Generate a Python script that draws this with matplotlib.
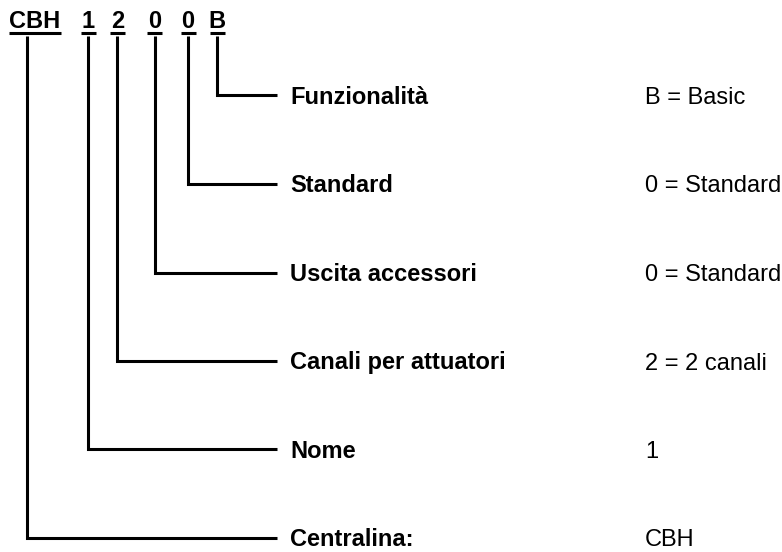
import matplotlib
matplotlib.use("Agg")
import matplotlib.pyplot as plt

code_chars = ["CBH", "1", "2", "0", "0", "B"]
labels = ["Centralina:", "Nome", "Canali per attuatori", "Uscita accessori", "Standard", "Funzionalità"]
values = ["CBH", "1", "2 = 2 canali", "0 = Standard", "0 = Standard", "B = Basic"]

char_x = [35, 88, 117.5, 154.5, 188, 217]
stem_x = [27, 87.5, 117, 154.5, 188, 217]
ul_half = [26, 7.5, 7.5, 7.5, 7.5, 7.5]
branch_y = [538, 449, 361, 272.5, 183.5, 95]

fig = plt.figure(figsize=(7.82, 5.52), dpi=100)
ax = fig.add_axes([0, 0, 1, 1])
ax.set_xlim(0, 782)
ax.set_ylim(552, 0)
ax.axis("off")

font = "Liberation Sans"
lw = 2.2
fs = 17
for i, ch in enumerate(code_chars):
    ax.text(char_x[i], 28, ch, ha="center", va="baseline", fontsize=fs,
            fontweight="bold", family=font)
    ax.plot([char_x[i] - ul_half[i], char_x[i] + ul_half[i]], [33, 33], color="black", lw=lw,
            solid_capstyle="butt")
    ax.plot([stem_x[i], stem_x[i], 277], [36, branch_y[i], branch_y[i]], color="black", lw=lw,
            solid_joinstyle="miter", solid_capstyle="butt")
    ax.text(290, branch_y[i] + 8.5, labels[i], ha="left", va="baseline", fontsize=fs,
            fontweight="bold", family=font)
    ax.text(645, branch_y[i] + 8.5, values[i], ha="left", va="baseline", fontsize=fs, family=font)

fig.savefig("out.png", dpi=100)
